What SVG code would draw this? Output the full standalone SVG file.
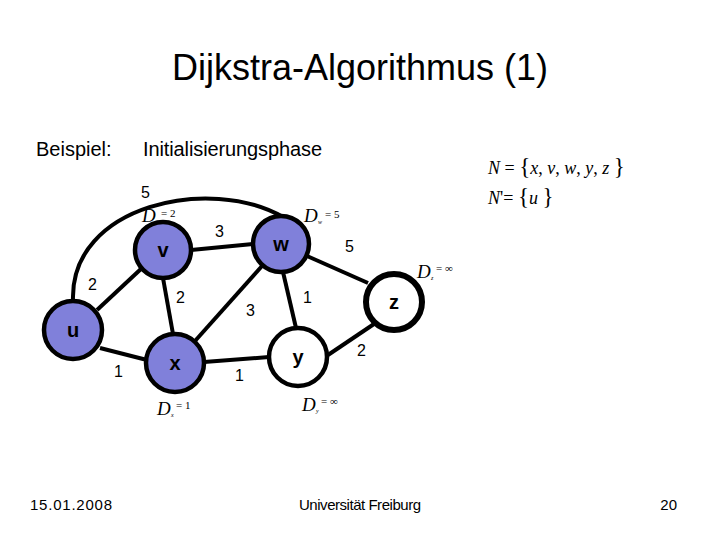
<svg xmlns="http://www.w3.org/2000/svg" width="720" height="540" viewBox="0 0 720 540">
<style>
.sans{font-family:"Liberation Sans",Arial,sans-serif;fill:#000}
.serif{font-family:"Liberation Serif","Times New Roman",serif;fill:#000}
.edge{stroke:#000;stroke-width:4;fill:none}
.node{stroke:#000;stroke-width:4.5}
.filled{fill:#8080da}
.empty{fill:#fff}
.nl{font-family:"Liberation Sans",Arial,sans-serif;font-size:20px;font-weight:bold;text-anchor:middle}
.el{font-family:"Liberation Sans",Arial,sans-serif;font-size:16px}
.D{font-family:"Liberation Serif","Times New Roman",serif;font-style:italic;font-size:19px}
.eq{font-family:"Liberation Serif","Times New Roman",serif;font-size:11px}
.sub{font-family:"Liberation Serif","Times New Roman",serif;font-size:6px;font-style:italic}
</style>
<rect width="720" height="540" fill="#fff"/>
<text class="sans" x="360" y="80" font-size="36" text-anchor="middle">Dijkstra-Algorithmus (1)</text>
<text class="sans" x="36" y="156" font-size="20">Beispiel:</text>
<text class="sans" x="143" y="156" font-size="20" textLength="179">Initialisierungsphase</text>
<text class="serif" x="488" y="174" font-size="18"><tspan font-style="italic">N</tspan> = <tspan font-size="23">{</tspan><tspan font-style="italic">x</tspan>, <tspan font-style="italic">v</tspan>, <tspan font-style="italic">w</tspan>, <tspan font-style="italic">y</tspan>, <tspan font-style="italic">z</tspan> <tspan font-size="23">}</tspan></text>
<text class="serif" x="488" y="204" font-size="18"><tspan font-style="italic">N</tspan>'= <tspan font-size="23">{</tspan><tspan font-style="italic">u</tspan> <tspan font-size="23">}</tspan></text>
<g id="connectors">
<path class="edge" d="M73,300 C70,205 210,175 283,217"/>
<line class="edge" x1="97" y1="310" x2="142" y2="268"/>
<line class="edge" x1="100" y1="348" x2="147" y2="360"/>
<line class="edge" x1="163" y1="278" x2="173" y2="334"/>
<line class="edge" x1="195" y1="341" x2="262" y2="266"/>
<line class="edge" x1="204" y1="362" x2="269" y2="357"/>
<line class="edge" x1="283" y1="272" x2="296" y2="328"/>
<line class="edge" x1="307" y1="256" x2="368" y2="283"/>
<line class="edge" x1="325" y1="357" x2="374" y2="324"/>
<line class="edge" x1="191" y1="250" x2="253" y2="244"/>
<text class="el" x="141" y="198">5</text>
<text class="el" x="215" y="237">3</text>
<text class="el" x="345" y="252">5</text>
<text class="el" x="88" y="290">2</text>
<text class="el" x="176" y="303">2</text>
<text class="el" x="246" y="316">3</text>
<text class="el" x="303" y="303">1</text>
<text class="el" x="357" y="356">2</text>
<text class="el" x="114" y="377">1</text>
<text class="el" x="235" y="381">1</text>
</g>
<g id="node-v">
<circle class="node filled" cx="163" cy="250" r="28"/>
<text class="nl" x="163" y="257">v</text>
<text class="D" x="142" y="222">D</text><text class="sub" x="156" y="224">v</text><text class="eq" x="161" y="217">= 2</text>
</g>
<g id="node-w">
<circle class="node filled" cx="281" cy="244" r="28"/>
<text class="nl" x="281" y="251">w</text>
<text class="D" x="304" y="222">D</text><text class="sub" x="318" y="224">w</text><text class="eq" x="325" y="218">= 5</text>
</g>
<g id="node-u">
<circle class="node filled" cx="73" cy="330" r="29"/>
<text class="nl" x="73" y="337">u</text>
</g>
<g id="node-x">
<circle class="node filled" cx="175" cy="363" r="29"/>
<text class="nl" x="175" y="370">x</text>
<text class="D" x="157" y="415">D</text><text class="sub" x="171" y="417">x</text><text class="eq" x="176" y="409">= 1</text>
</g>
<g id="node-y">
<circle class="node empty" cx="298" cy="357" r="29"/>
<text class="nl" x="298" y="364">y</text>
<text class="D" x="302" y="411">D</text><text class="sub" x="316" y="413">y</text><text class="eq" x="321" y="405">= ∞</text>
</g>
<g id="node-z">
<circle class="empty" cx="394" cy="302" r="28" stroke="#000" stroke-width="6"/>
<text class="nl" x="394" y="309">z</text>
<text class="D" x="417" y="278">D</text><text class="sub" x="431" y="280">z</text><text class="eq" x="436" y="272">= ∞</text>
</g>
<text class="sans" x="30" y="510" font-size="15" textLength="82">15.01.2008</text>
<text class="sans" x="299" y="510" font-size="15" textLength="122">Universität Freiburg</text>
<text class="sans" x="677" y="510" font-size="15" text-anchor="end">20</text>
</svg>
